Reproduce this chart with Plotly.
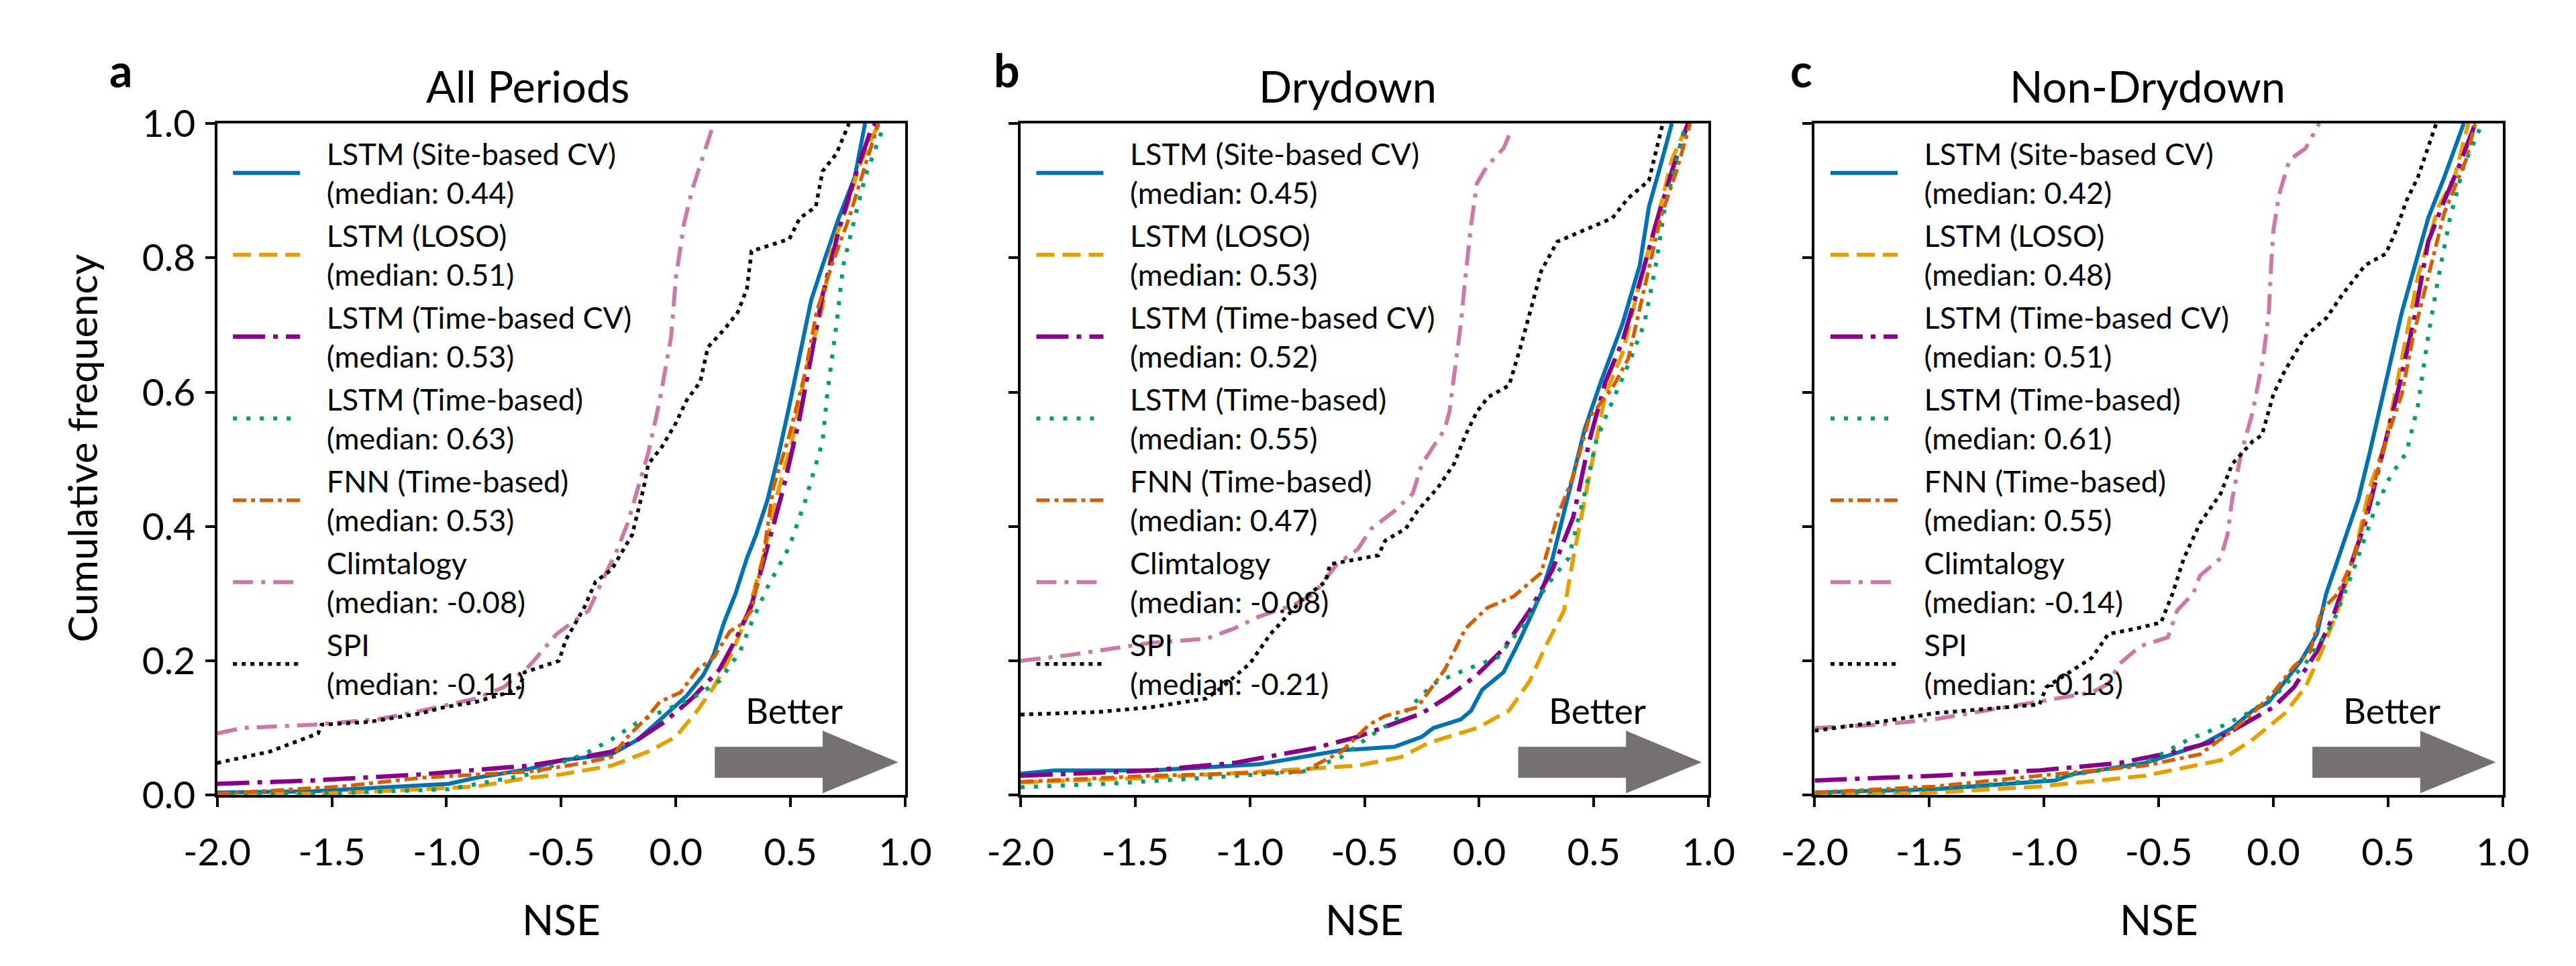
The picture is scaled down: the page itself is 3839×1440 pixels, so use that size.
import plotly.graph_objects as go

# ---------------- data: CDF of NSE per model ----------------
labels = ['LSTM (Site-based CV)', 'LSTM (LOSO)', 'LSTM (Time-based CV)', 'LSTM (Time-based)',
          'FNN (Time-based)', 'Climtalogy', 'SPI']

a_medians = ['0.44', '0.51', '0.53', '0.63', '0.53', '-0.08', '-0.11']
b_medians = ['0.45', '0.53', '0.52', '0.55', '0.47', '-0.08', '-0.21']
c_medians = ['0.42', '0.48', '0.51', '0.61', '0.55', '-0.14', '-0.13']

# panel a: All Periods
a_site_nse = [-2.0, -1.58, -0.99, -0.87, -0.64, -0.5, -0.28, -0.165, -0.05, 0.047, 0.12, 0.165, 0.21, 0.26, 0.31, 0.35, 0.40, 0.45, 0.495, 0.54, 0.59, 0.64, 0.71, 0.78, 0.825]
a_site_cdf = [0.004, 0.006, 0.017, 0.026, 0.039, 0.052, 0.061, 0.083, 0.118, 0.148, 0.179, 0.209, 0.257, 0.30, 0.353, 0.388, 0.44, 0.51, 0.58, 0.658, 0.737, 0.789, 0.859, 0.92, 1.0]
a_loso_nse = [-2.0, -1.5, -1.1, -0.87, -0.64, -0.5, -0.28, -0.12, 0.0, 0.094, 0.165, 0.236, 0.31, 0.38, 0.45, 0.507, 0.566, 0.64, 0.68, 0.755, 0.80, 0.884]
a_loso_cdf = [0.0, 0.003, 0.009, 0.013, 0.026, 0.031, 0.044, 0.065, 0.087, 0.126, 0.161, 0.205, 0.266, 0.353, 0.458, 0.527, 0.632, 0.728, 0.815, 0.885, 0.937, 1.0]
a_tcv_nse = [-2.0, -1.58, -1.11, -0.64, -0.40, -0.28, -0.165, -0.05, 0.07, 0.19, 0.26, 0.33, 0.40, 0.47, 0.54, 0.59, 0.64, 0.71, 0.78, 0.85, 0.87]
a_tcv_cdf = [0.017, 0.022, 0.031, 0.044, 0.057, 0.065, 0.083, 0.109, 0.144, 0.187, 0.231, 0.283, 0.37, 0.458, 0.562, 0.65, 0.745, 0.84, 0.92, 0.99, 1.0]
a_time_nse = [-2.0, -1.5, -0.99, -0.64, -0.40, -0.28, -0.165, -0.05, 0.07, 0.19, 0.28, 0.33, 0.40, 0.495, 0.566, 0.64, 0.66, 0.70, 0.73, 0.78, 0.825, 0.91]
a_time_cdf = [0.0, 0.003, 0.009, 0.031, 0.061, 0.083, 0.109, 0.126, 0.144, 0.17, 0.214, 0.257, 0.31, 0.37, 0.44, 0.527, 0.597, 0.70, 0.789, 0.859, 0.92, 1.0]
a_fnn_nse = [-2.0, -1.46, -1.11, -0.64, -0.40, -0.28, -0.21, -0.12, -0.07, 0.02, 0.094, 0.165, 0.236, 0.28, 0.33, 0.38, 0.425, 0.495, 0.566, 0.613, 0.68, 0.755, 0.825, 0.884]
a_fnn_cdf = [0.002, 0.013, 0.026, 0.035, 0.048, 0.057, 0.087, 0.118, 0.139, 0.153, 0.187, 0.205, 0.244, 0.253, 0.275, 0.353, 0.458, 0.536, 0.632, 0.719, 0.789, 0.859, 0.937, 1.0]
a_clim_nse = [-2.0, -1.89, -1.58, -1.30, -1.16, -0.87, -0.75, -0.64, -0.52, -0.38, -0.31, -0.26, -0.21, -0.165, -0.12, -0.07, -0.02, 0.0, 0.035, 0.07, 0.12, 0.165]
a_clim_cdf = [0.092, 0.10, 0.105, 0.113, 0.122, 0.144, 0.161, 0.192, 0.24, 0.275, 0.327, 0.362, 0.405, 0.458, 0.51, 0.588, 0.684, 0.77, 0.85, 0.90, 0.955, 1.0]
a_spi_nse = [-2.0, -1.77, -1.56, -1.545, -1.34, -1.11, -1.01, -0.87, -0.73, -0.68, -0.66, -0.51, -0.48, -0.40, -0.35, -0.28, -0.19, -0.14, -0.12, -0.06, 0.0, 0.047, 0.106, 0.14, 0.21, 0.27, 0.31, 0.33, 0.495, 0.54, 0.61, 0.64, 0.70, 0.755]
a_spi_cdf = [0.048, 0.065, 0.092, 0.105, 0.109, 0.122, 0.131, 0.139, 0.153, 0.161, 0.183, 0.2, 0.231, 0.279, 0.318, 0.336, 0.388, 0.458, 0.493, 0.519, 0.554, 0.588, 0.615, 0.667, 0.693, 0.719, 0.754, 0.81, 0.828, 0.859, 0.876, 0.929, 0.955, 1.0]

# panel b: Drydown
b_site_nse = [-2.0, -1.85, -1.43, -0.96, -0.77, -0.60, -0.37, -0.25, -0.20, -0.08, -0.035, 0.013, 0.106, 0.177, 0.27, 0.32, 0.39, 0.46, 0.53, 0.625, 0.70, 0.74, 0.79, 0.84]
b_site_cdf = [0.032, 0.037, 0.037, 0.046, 0.057, 0.067, 0.072, 0.087, 0.10, 0.113, 0.126, 0.157, 0.183, 0.231, 0.30, 0.353, 0.449, 0.545, 0.615, 0.702, 0.789, 0.876, 0.937, 1.0]
b_loso_nse = [-2.0, -1.43, -0.96, -0.53, -0.34, -0.22, -0.01, 0.13, 0.22, 0.29, 0.37, 0.41, 0.46, 0.51, 0.55, 0.625, 0.70, 0.79, 0.84, 0.91]
b_loso_cdf = [0.019, 0.026, 0.035, 0.044, 0.057, 0.078, 0.10, 0.126, 0.17, 0.222, 0.275, 0.353, 0.44, 0.527, 0.597, 0.658, 0.763, 0.876, 0.946, 1.0]
b_tcv_nse = [-2.0, -1.43, -1.07, -0.72, -0.53, -0.39, -0.25, -0.13, -0.01, 0.106, 0.22, 0.32, 0.41, 0.48, 0.55, 0.625, 0.70, 0.77, 0.84, 0.91]
b_tcv_cdf = [0.029, 0.037, 0.048, 0.07, 0.087, 0.105, 0.122, 0.148, 0.179, 0.218, 0.275, 0.336, 0.414, 0.527, 0.615, 0.676, 0.763, 0.85, 0.929, 1.0]
b_time_nse = [-2.0, -1.62, -1.19, -0.77, -0.60, -0.48, -0.34, -0.20, -0.06, 0.08, 0.20, 0.29, 0.39, 0.46, 0.51, 0.55, 0.65, 0.72, 0.77, 0.81, 0.86, 0.90]
b_time_cdf = [0.012, 0.017, 0.026, 0.035, 0.057, 0.087, 0.118, 0.166, 0.187, 0.205, 0.257, 0.31, 0.353, 0.449, 0.527, 0.562, 0.641, 0.702, 0.789, 0.876, 0.946, 1.0]
b_fnn_nse = [-2.0, -1.43, -0.77, -0.60, -0.48, -0.41, -0.27, -0.15, -0.06, 0.035, 0.15, 0.27, 0.34, 0.41, 0.48, 0.58, 0.65, 0.72, 0.79, 0.86, 0.92]
b_fnn_cdf = [0.02, 0.029, 0.035, 0.065, 0.105, 0.118, 0.131, 0.187, 0.248, 0.279, 0.296, 0.331, 0.414, 0.475, 0.562, 0.606, 0.65, 0.754, 0.859, 0.929, 1.0]
b_clim_nse = [-2.0, -1.78, -1.43, -1.19, -1.07, -0.96, -0.81, -0.72, -0.62, -0.53, -0.47, -0.37, -0.29, -0.25, -0.20, -0.15, -0.13, -0.11, -0.08, -0.06, -0.035, -0.01, 0.035, 0.106, 0.14]
b_clim_cdf = [0.20, 0.209, 0.227, 0.233, 0.248, 0.266, 0.283, 0.30, 0.344, 0.366, 0.397, 0.423, 0.449, 0.493, 0.519, 0.545, 0.571, 0.623, 0.702, 0.772, 0.85, 0.911, 0.937, 0.963, 0.99]
b_spi_nse = [-2.0, -1.66, -1.43, -1.19, -1.12, -1.0, -0.91, -0.77, -0.67, -0.65, -0.44, -0.41, -0.32, -0.27, -0.18, -0.11, -0.06, -0.01, 0.04, 0.13, 0.18, 0.22, 0.27, 0.34, 0.46, 0.58, 0.65, 0.74, 0.80]
b_spi_cdf = [0.12, 0.124, 0.131, 0.144, 0.161, 0.196, 0.24, 0.292, 0.318, 0.344, 0.357, 0.379, 0.397, 0.423, 0.458, 0.493, 0.536, 0.571, 0.593, 0.61, 0.667, 0.719, 0.78, 0.824, 0.841, 0.859, 0.889, 0.915, 1.0]

# panel c: Non-Drydown
c_site_nse = [-2.0, -1.48, -0.95, -0.88, -0.56, -0.32, -0.18, -0.09, -0.02, 0.05, 0.12, 0.19, 0.23, 0.30, 0.37, 0.42, 0.49, 0.56, 0.61, 0.675, 0.745, 0.83]
c_site_cdf = [0.004, 0.009, 0.022, 0.031, 0.048, 0.074, 0.10, 0.126, 0.139, 0.17, 0.20, 0.24, 0.30, 0.37, 0.44, 0.51, 0.615, 0.719, 0.78, 0.859, 0.92, 1.0]
c_loso_nse = [-2.0, -1.48, -1.02, -0.56, -0.23, -0.09, 0.05, 0.14, 0.21, 0.28, 0.35, 0.42, 0.49, 0.56, 0.63, 0.72, 0.79, 0.85]
c_loso_cdf = [0.0, 0.004, 0.013, 0.029, 0.052, 0.083, 0.122, 0.161, 0.214, 0.275, 0.353, 0.458, 0.527, 0.65, 0.772, 0.876, 0.92, 1.0]
c_tcv_nse = [-2.0, -1.48, -1.02, -0.67, -0.44, -0.28, -0.18, -0.09, 0.0, 0.09, 0.19, 0.26, 0.33, 0.40, 0.47, 0.54, 0.61, 0.675, 0.745, 0.81, 0.88]
c_tcv_cdf = [0.022, 0.029, 0.037, 0.048, 0.064, 0.078, 0.096, 0.113, 0.131, 0.161, 0.214, 0.266, 0.336, 0.405, 0.501, 0.597, 0.702, 0.824, 0.885, 0.937, 1.0]
c_time_nse = [-2.0, -1.48, -1.02, -0.56, -0.37, -0.21, -0.09, 0.02, 0.14, 0.26, 0.35, 0.44, 0.51, 0.58, 0.63, 0.675, 0.72, 0.77, 0.83, 0.91]
c_time_cdf = [0.002, 0.009, 0.022, 0.048, 0.083, 0.105, 0.126, 0.153, 0.196, 0.257, 0.336, 0.423, 0.475, 0.51, 0.58, 0.684, 0.772, 0.859, 0.937, 1.0]
c_fnn_nse = [-2.0, -1.48, -1.02, -0.56, -0.32, -0.18, -0.09, 0.0, 0.09, 0.16, 0.21, 0.28, 0.35, 0.42, 0.49, 0.56, 0.61, 0.675, 0.745, 0.84, 0.88]
c_fnn_cdf = [0.004, 0.013, 0.029, 0.044, 0.061, 0.096, 0.122, 0.153, 0.192, 0.214, 0.275, 0.30, 0.353, 0.44, 0.527, 0.597, 0.684, 0.772, 0.867, 0.946, 1.0]
c_clim_nse = [-2.0, -1.72, -1.48, -1.25, -1.02, -0.79, -0.72, -0.67, -0.58, -0.46, -0.42, -0.35, -0.32, -0.23, -0.20, -0.18, -0.14, -0.09, -0.045, -0.02, -0.01, 0.0, 0.025, 0.07, 0.14, 0.20]
c_clim_cdf = [0.10, 0.105, 0.113, 0.126, 0.14, 0.153, 0.166, 0.196, 0.222, 0.235, 0.275, 0.30, 0.327, 0.353, 0.388, 0.44, 0.51, 0.571, 0.65, 0.719, 0.789, 0.841, 0.894, 0.946, 0.963, 1.0]
c_spi_nse = [-2.0, -1.72, -1.48, -1.25, -1.02, -0.99, -0.79, -0.72, -0.60, -0.49, -0.44, -0.39, -0.32, -0.23, -0.18, -0.09, -0.05, 0.0, 0.05, 0.14, 0.23, 0.30, 0.40, 0.49, 0.535, 0.58, 0.63, 0.71]
c_spi_cdf = [0.096, 0.109, 0.122, 0.128, 0.135, 0.161, 0.205, 0.24, 0.248, 0.257, 0.30, 0.353, 0.405, 0.449, 0.493, 0.527, 0.536, 0.597, 0.632, 0.684, 0.71, 0.745, 0.789, 0.806, 0.841, 0.885, 0.92, 1.0]

x_ticks = [-2.0, -1.5, -1.0, -0.5, 0.0, 0.5, 1.0]
x_ticktext = ['-2.0', '-1.5', '-1.0', '-0.5', '0.0', '0.5', '1.0']
y_ticks = [0.0, 0.2, 0.4, 0.6, 0.8, 1.0]
y_ticktext = ['0.0', '0.2', '0.4', '0.6', '0.8', '1.0']

panel_titles = ['All Periods', 'Drydown', 'Non-Drydown']
panel_letters = ['a', 'b', 'c']

# ---------------- styling ----------------
FONT = 'Lato'
colors = ['#0072B2', '#E69F00', '#880088', '#009E73', '#D55E00', '#CC79A7', '#000000']
dashes = ['solid', '27px,12px', '48px,12px,7px,12px', '6px,14px',
          '20px,7px,6px,7px', '30px,12px,6px,12px', '6px,7px']
widths = [6, 6, 6.5, 6, 5.5, 6, 5.5]

panels = [
    ([a_site_nse, a_loso_nse, a_tcv_nse, a_time_nse, a_fnn_nse, a_clim_nse, a_spi_nse],
     [a_site_cdf, a_loso_cdf, a_tcv_cdf, a_time_cdf, a_fnn_cdf, a_clim_cdf, a_spi_cdf], a_medians),
    ([b_site_nse, b_loso_nse, b_tcv_nse, b_time_nse, b_fnn_nse, b_clim_nse, b_spi_nse],
     [b_site_cdf, b_loso_cdf, b_tcv_cdf, b_time_cdf, b_fnn_cdf, b_clim_cdf, b_spi_cdf], b_medians),
    ([c_site_nse, c_loso_nse, c_tcv_nse, c_time_nse, c_fnn_nse, c_clim_nse, c_spi_nse],
     [c_site_cdf, c_loso_cdf, c_tcv_cdf, c_time_cdf, c_fnn_cdf, c_clim_cdf, c_spi_cdf], c_medians),
]

W, H = 3839, 1440
x_left = [272, 1498, 2710]
x_domains = [[l / W, (l + 1050) / W] for l in x_left]
y_domain = [1 - 1198 / H, 1 - 147 / H]

pad = '&nbsp;&nbsp;&nbsp;'  # extra room between legend line and text

fig = go.Figure()

for p, (xs, ys, meds) in enumerate(panels):
    sfx = '' if p == 0 else str(p + 1)
    for k in range(len(labels)):
        fig.add_trace(go.Scatter(
            x=xs[k], y=ys[k], mode='lines',
            name=pad + labels[k] + '<br>' + pad + '(median: ' + meds[k] + ')',
            line=dict(color=colors[k], width=widths[k], dash=dashes[k]),
            xaxis='x' + sfx, yaxis='y' + sfx, legend='legend' + sfx,
            legendgroup='g%d_%d' % (p, k),
        ))

layout = dict(
    width=W, height=H,
    margin=dict(l=0, r=0, t=0, b=0),
    paper_bgcolor='white', plot_bgcolor='white',
    font=dict(family=FONT, color='black'),
    annotations=[], shapes=[],
)

for p in range(3):
    sfx = '' if p == 0 else str(p + 1)
    layout['xaxis' + sfx] = dict(
        domain=x_domains[p], range=[-2.0, 1.0], anchor='y' + sfx,
        tickvals=x_ticks, ticktext=x_ticktext, ticks='outside', ticklen=14, tickwidth=4,
        tickcolor='black', showline=True, linecolor='black', linewidth=4, mirror=True,
        showgrid=False, zeroline=False, tickfont=dict(size=57, family=FONT),
        ticklabelstandoff=18,
    )
    layout['yaxis' + sfx] = dict(
        domain=y_domain, range=[0.0, 1.0], anchor='x' + sfx,
        tickvals=y_ticks, ticktext=y_ticktext, ticks='outside', ticklen=14, tickwidth=4,
        tickcolor='black', showline=True, linecolor='black', linewidth=4, mirror=True,
        showgrid=False, zeroline=False, tickfont=dict(size=57, family=FONT),
        showticklabels=(p == 0), ticklabelstandoff=3,
    )
    layout['legend' + sfx] = dict(
        x=(x_left[p] + 19) / W, y=1 - 156 / H, xanchor='left', yanchor='top',
        bgcolor='rgba(0,0,0,0)', font=dict(size=45, family=FONT),
        itemwidth=100, traceorder='grouped', tracegroupgap=2,
    )

# titles, panel letters, axis labels
title_x = [747, 1997, 3218]
letter_x = [125, 1477, 2690]
for p in range(3):
    layout['annotations'].append(dict(
        text=panel_titles[p], x=title_x[p] / W, y=1 - 88 / H, xref='paper', yref='paper',
        showarrow=False, font=dict(size=65, family=FONT), xanchor='center', yanchor='middle'))
    layout['annotations'].append(dict(
        text='<b>' + panel_letters[p] + '</b>', x=letter_x[p] / W, y=1 - 62 / H,
        xref='paper', yref='paper', showarrow=False,
        font=dict(size=68, family=FONT), xanchor='center', yanchor='middle'))
    layout['annotations'].append(dict(
        text='NSE', x=(x_domains[p][0] + x_domains[p][1]) / 2, y=1 - 1392 / H,
        xref='paper', yref='paper', showarrow=False, font=dict(size=62, family=FONT),
        xanchor='center', yanchor='middle'))

layout['annotations'].append(dict(
    text='Cumulative frequency', x=66 / W, y=1 - 655 / H, xref='paper', yref='paper',
    textangle=-90, showarrow=False, font=dict(size=60, family=FONT),
    xanchor='center', yanchor='middle'))

# "Better" arrow in each panel
for p in range(3):
    sfx = '' if p == 0 else str(p + 1)
    layout['annotations'].append(dict(
        text='Better', x=0.515, y=0.127, xref='x' + sfx, yref='y' + sfx, showarrow=False,
        font=dict(size=53, family=FONT), xanchor='center', yanchor='middle'))
    layout['shapes'].append(dict(
        type='path', xref='x' + sfx, yref='y' + sfx,
        path='M 0.17,0.026 L 0.64,0.026 L 0.64,0.003 L 0.97,0.049 L 0.64,0.096 '
             'L 0.64,0.072 L 0.17,0.072 Z',
        fillcolor='#757171', line=dict(width=0), layer='above'))

fig.update_layout(**layout)
fig.write_html('out.html')
